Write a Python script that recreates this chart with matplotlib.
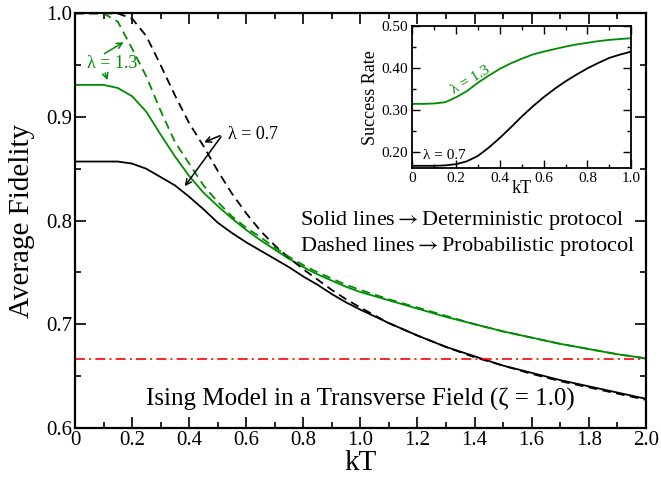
import matplotlib
matplotlib.use("Agg")
import matplotlib.pyplot as plt
from matplotlib.ticker import MultipleLocator

plt.rcParams['font.family'] = ['Liberation Serif', 'DejaVu Serif']
plt.rcParams['mathtext.fontset'] = 'stix'

## Average fidelity vs temperature, Ising model in a transverse field
kT = [0.0, 0.05, 0.1, 0.15, 0.2, 0.25, 0.3, 0.35, 0.4, 0.45, 0.5, 0.55, 0.6,
      0.65, 0.7, 0.75, 0.8, 0.85, 0.9, 0.95, 1.0, 1.1, 1.2, 1.3, 1.4, 1.5,
      1.6, 1.7, 1.8, 1.9, 2.0]

# deterministic protocol (solid)
det_07 = [0.857, 0.857, 0.857, 0.857, 0.855, 0.850, 0.842, 0.834, 0.823,
          0.811, 0.798, 0.788, 0.779, 0.771, 0.763, 0.755, 0.746, 0.738,
          0.729, 0.721, 0.714, 0.701, 0.689, 0.678, 0.669, 0.660, 0.653,
          0.646, 0.640, 0.634, 0.628]
det_13 = [0.931, 0.931, 0.931, 0.928, 0.920, 0.905, 0.883, 0.862, 0.843,
          0.827, 0.814, 0.802, 0.791, 0.781, 0.772, 0.763, 0.755, 0.748,
          0.742, 0.736, 0.731, 0.723, 0.715, 0.707, 0.700, 0.693, 0.687,
          0.681, 0.676, 0.671, 0.667]

# probabilistic protocol (dashed)
prob_07 = [1.000, 1.000, 1.000, 1.000, 0.995, 0.978, 0.950, 0.921, 0.894,
           0.872, 0.848, 0.826, 0.807, 0.790, 0.776, 0.764, 0.753, 0.743,
           0.733, 0.724, 0.716, 0.701, 0.689, 0.678, 0.668, 0.660, 0.652,
           0.645, 0.639, 0.633, 0.627]
prob_13 = [1.000, 1.000, 1.000, 0.992, 0.966, 0.939, 0.906, 0.876, 0.855,
           0.834, 0.818, 0.804, 0.793, 0.784, 0.774, 0.765, 0.757, 0.750,
           0.744, 0.738, 0.733, 0.724, 0.716, 0.708, 0.700, 0.693, 0.687,
           0.681, 0.676, 0.671, 0.667]

classical_limit = 2.0/3.0

## success rate (inset)
kT_in = [0.0, 0.05, 0.1, 0.15, 0.2, 0.25, 0.3, 0.35, 0.4, 0.45, 0.5, 0.55,
         0.6, 0.65, 0.7, 0.75, 0.8, 0.85, 0.9, 0.95, 1.0]
succ_07 = [0.166, 0.166, 0.166, 0.167, 0.170, 0.177, 0.190, 0.210, 0.233,
           0.258, 0.284, 0.308, 0.330, 0.350, 0.368, 0.384, 0.399, 0.412,
           0.424, 0.432, 0.439]
succ_13 = [0.314, 0.314, 0.315, 0.318, 0.330, 0.345, 0.365, 0.382, 0.398,
           0.411, 0.422, 0.432, 0.439, 0.445, 0.451, 0.456, 0.460, 0.464,
           0.467, 0.469, 0.471]

green = '#008c00'
dash = (4.8, 3.0)

fig = plt.figure(figsize=(6.61, 4.79), dpi=100)
ax = fig.add_axes([0.1135, 0.107, 0.8635, 0.865])

ax.plot(kT, det_07, color='k', lw=1.3)
ax.plot(kT, det_13, color=green, lw=1.3)
ax.plot(kT, prob_07, color='k', lw=1.3, dashes=dash)
ax.plot(kT, prob_13, color=green, lw=1.3, dashes=dash)
ax.axhline(classical_limit, color='red', lw=1.2, dashes=(6, 2.5, 1.2, 2.5))

ax.set_xlim(0, 2.0)
ax.set_ylim(0.6, 1.0)
ax.xaxis.set_major_locator(MultipleLocator(0.2))
ax.xaxis.set_minor_locator(MultipleLocator(0.1))
ax.yaxis.set_major_locator(MultipleLocator(0.1))
ax.yaxis.set_minor_locator(MultipleLocator(0.05))
ax.set_xticklabels([f"{v:.1f}" if v > 0 else "0" for v in ax.get_xticks()])
ax.tick_params(which='both', direction='in', top=True, right=True,
               labelsize=15, width=1.2, pad=2)
ax.tick_params(which='major', length=8)
ax.tick_params(which='minor', length=4)
for s in ax.spines.values():
    s.set_linewidth(1.6)

ax.set_xlabel("kT", fontsize=21, labelpad=0)
ax.set_ylabel("Average Fidelity", fontsize=21, labelpad=8)

# lambda labels with arrows
ax.text(0.1295, 0.9517, "λ = 1.3", color=green, fontsize=13,
        ha='center', va='center')
ax.annotate('', xy=(0.1785, 0.9736), xytext=(0.0945, 0.9598),
            arrowprops=dict(arrowstyle='->', color=green, lw=1.1))
ax.annotate('', xy=(0.1167, 0.933), xytext=(0.1026, 0.945),
            arrowprops=dict(arrowstyle='->', color=green, lw=1.1))

ax.text(0.537, 0.8835, "λ = 0.7", color='k', fontsize=13,
        ha='left', va='center')
ax.annotate('', xy=(0.4434, 0.8745), xytext=(0.517, 0.883),
            arrowprops=dict(arrowstyle='->', color='k', lw=1.1))
ax.annotate('', xy=(0.379, 0.831), xytext=(0.517, 0.883),
            arrowprops=dict(arrowstyle='->', color='k', lw=1.1))

ax.text(0.7875, 0.8005, "Solid lines$\\rightarrow$Deterministic protocol",
        fontsize=16, ha='left', va='center')
ax.text(0.7875, 0.7747, "Dashed lines$\\rightarrow$Probabilistic protocol",
        fontsize=16, ha='left', va='center')
ax.text(1.0, 0.627, "Ising Model in a Transverse Field (ζ = 1.0)",
        fontsize=18, ha='center', va='center')

## inset
ins = fig.add_axes([0.624, 0.6486, 0.331, 0.297])
ins.plot(kT_in, succ_13, color=green, lw=1.3)
ins.plot(kT_in, succ_07, color='k', lw=1.3)
ins.set_xlim(0, 1.0)
ins.set_ylim(0.16, 0.50)
ins.xaxis.set_major_locator(MultipleLocator(0.2))
ins.xaxis.set_minor_locator(MultipleLocator(0.1))
ins.yaxis.set_major_locator(MultipleLocator(0.1))
ins.yaxis.set_minor_locator(MultipleLocator(0.05))
ins.set_xticklabels([f"{v:.1f}" if v > 0 else "0" for v in ins.get_xticks()])
ins.set_yticklabels([f"{v:.2f}" for v in ins.get_yticks()])
ins.tick_params(which='both', direction='in', top=True, right=True,
                labelsize=11, width=1.0, pad=3)
ins.tick_params(which='major', length=6)
ins.tick_params(which='minor', length=3)
for s in ins.spines.values():
    s.set_linewidth(1.3)
ins.set_xlabel("kT", fontsize=13, labelpad=-4)
ins.set_ylabel("Success Rate", fontsize=13, labelpad=2)

ins.text(0.265, 0.37, "λ = 1.3", color=green, fontsize=11,
         ha='center', va='center', rotation=31)
ins.text(0.148, 0.190, "λ = 0.7", color='k', fontsize=11,
         ha='center', va='center')

fig.savefig('out.png', dpi=100)
